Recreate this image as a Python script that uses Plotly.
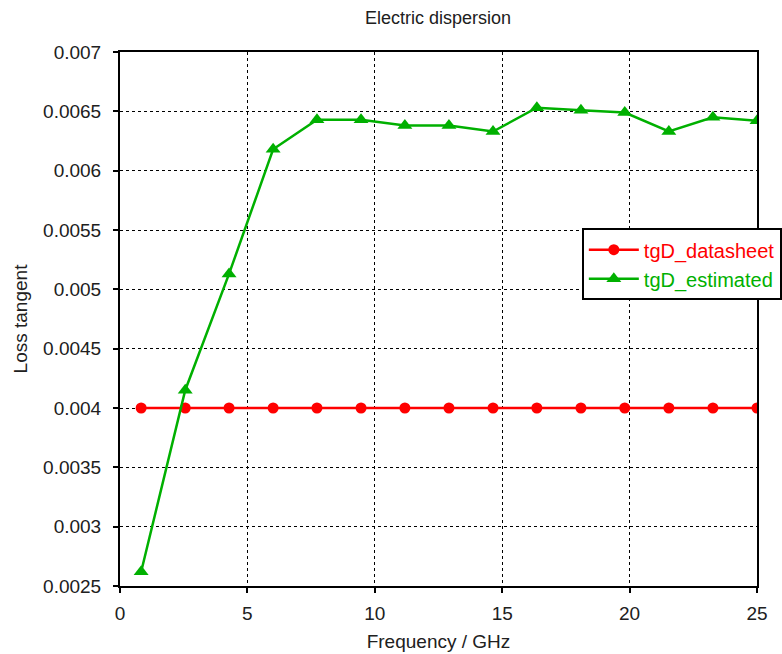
import plotly.graph_objects as go

freq_ghz = [0.83, 2.56, 4.28, 6.01, 7.73, 9.46, 11.18, 12.91, 14.64, 16.36, 18.09, 19.81, 21.54, 23.27, 25.0]
tgd_datasheet = [0.004] * 15
tgd_estimated = [0.00262, 0.00415, 0.00513, 0.00618, 0.00643, 0.00643, 0.00638, 0.00638, 0.00633,
                 0.00653, 0.00651, 0.00649, 0.00633, 0.00645, 0.00642]
y_ticks = [0.0025, 0.003, 0.0035, 0.004, 0.0045, 0.005, 0.0055, 0.006, 0.0065, 0.007]
y_tick_labels = ["0.0025", "0.003", "0.0035", "0.004", "0.0045", "0.005", "0.0055", "0.006", "0.0065", "0.007"]
x_ticks = [0, 5, 10, 15, 20, 25]

font_family = "Liberation Sans"
text_color = "#202020"

fig = go.Figure()
fig.add_trace(go.Scatter(
    x=freq_ghz, y=tgd_datasheet, mode="lines+markers",
    name='<span style="color:#ff0000">tgD_datasheet</span>',
    line=dict(color="#ff0000", width=2.5),
    marker=dict(symbol="circle", size=11, color="#ff0000"),
))
fig.add_trace(go.Scatter(
    x=freq_ghz, y=tgd_estimated, mode="lines+markers",
    name='<span style="color:#00b000">tgD_estimated</span>',
    line=dict(color="#00b000", width=2.5),
    marker=dict(symbol="triangle-up", size=13, color="#00b000"),
))

axis_common = dict(
    showline=True, linecolor="black", linewidth=2, mirror=True,
    ticks="outside", ticklen=5, tickcolor="black", tickwidth=1.5,
    showgrid=True, gridcolor="black", gridwidth=1, griddash="3px,3px",
    zeroline=False, automargin=False,
    tickfont=dict(family=font_family, size=19, color=text_color),
)

fig.update_layout(
    width=782, height=654,
    margin=dict(l=120, r=25, t=52, b=68, autoexpand=False),
    paper_bgcolor="white", plot_bgcolor="white",
    title=dict(text="Electric dispersion", x=0.56, xref="container", xanchor="center",
               y=0.9725, yref="container", yanchor="middle",
               font=dict(family=font_family, size=18, color=text_color)),
    xaxis=dict(range=[0, 25], tickvals=x_ticks, ticklabelstandoff=4,
               title=dict(text="Frequency / GHz", standoff=12,
                          font=dict(family=font_family, size=19, color=text_color)),
               **axis_common),
    yaxis=dict(range=[0.0025, 0.007], tickvals=y_ticks, ticktext=y_tick_labels,
               ticklabelstandoff=8,
               title=dict(text="Loss tangent", standoff=10,
                          font=dict(family=font_family, size=19, color=text_color)),
               **axis_common),
    legend=dict(x=0.725, y=0.67, xanchor="left", yanchor="top",
                bgcolor="white", bordercolor="black", borderwidth=2,
                font=dict(family=font_family, size=20),
                itemwidth=50, tracegroupgap=0),
    showlegend=True,
)

fig.write_html("out.html", config={"displayModeBar": False},
               post_script="document.body.style.margin='0px';")
